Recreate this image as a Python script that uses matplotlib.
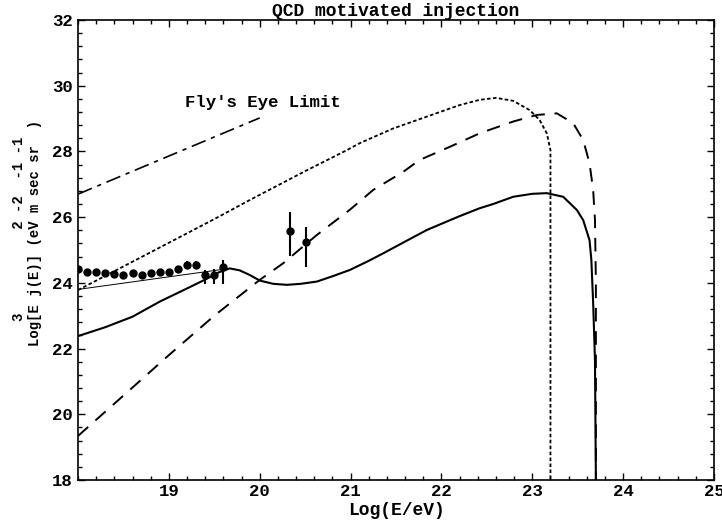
import matplotlib
matplotlib.use("Agg")
import matplotlib.pyplot as plt
from matplotlib.ticker import MultipleLocator, FixedLocator

# solid curve
solid_x = [18.0, 18.3, 18.6, 18.9, 19.2, 19.4, 19.55, 19.67, 19.78, 19.89, 20.0,
           20.15, 20.3, 20.45, 20.63, 20.8, 20.99, 21.2, 21.36, 21.65, 21.84, 22.2,
           22.42, 22.57, 22.79, 23.0, 23.16, 23.34, 23.49, 23.56, 23.63, 23.65,
           23.67, 23.69, 23.70]
solid_y = [22.38, 22.65, 22.97, 23.43, 23.83, 24.10, 24.32, 24.44, 24.38, 24.24, 24.07,
           23.97, 23.94, 23.97, 24.04, 24.20, 24.39, 24.67, 24.90, 25.33, 25.61, 26.03,
           26.27, 26.40, 26.62, 26.71, 26.73, 26.62, 26.22, 25.91, 25.30, 24.70,
           23.39, 21.65, 18.0]

# dotted curve
dot_x = [18.0, 18.5, 19.0, 19.5, 19.89, 20.5, 20.96, 21.10, 21.47, 21.84, 22.2,
         22.42, 22.6, 22.79, 22.97, 23.08, 23.16, 23.2, 23.2]
dot_y = [23.78, 24.50, 25.22, 25.94, 26.52, 27.40, 28.04, 28.25, 28.70, 29.06, 29.41,
         29.57, 29.63, 29.54, 29.26, 28.96, 28.55, 28.04, 18.0]

# dashed curve
dash_x = [18.0, 18.61, 19.0, 19.5, 20.0, 20.26, 20.63, 20.99, 21.25, 21.58, 21.76,
          22.1, 22.42, 22.79, 23.05, 23.27, 23.45, 23.56, 23.63, 23.67, 23.69,
          23.70, 23.70]
dash_y = [19.34, 20.84, 21.80, 23.00, 24.09, 24.60, 25.46, 26.22, 26.83, 27.38, 27.74,
          28.15, 28.55, 28.91, 29.11, 29.16, 28.86, 28.35, 27.64, 26.83, 25.91,
          24.0, 18.0]

# Fly's Eye limit and thin fit line
fly_x = [18.0, 20.0]
fly_y = [26.70, 29.02]
fit_x = [18.0, 19.67]
fit_y = [23.80, 24.44]

# measured points
data_x = [18.0, 18.1, 18.2, 18.3, 18.4, 18.5, 18.6, 18.7, 18.8, 18.9, 19.0,
          19.1, 19.2, 19.3, 19.4, 19.5, 19.6, 20.33, 20.51]
data_y = [24.41, 24.34, 24.34, 24.29, 24.27, 24.23, 24.29, 24.23, 24.29, 24.33, 24.32,
          24.41, 24.54, 24.54, 24.23, 24.25, 24.47, 25.59, 25.25]
err_up = [0, 0, 0, 0, 0, 0, 0, 0, 0, 0, 0.04,
          0.10, 0.12, 0.12, 0.15, 0.17, 0.24, 0.56, 0.44]
err_lo = [0, 0, 0, 0, 0, 0, 0, 0, 0, 0, 0.04,
          0.10, 0.12, 0.12, 0.25, 0.28, 0.49, 0.77, 0.78]

mono = "Liberation Mono"

fig = plt.figure(figsize=(7.22, 5.21), dpi=100)
ax = fig.add_axes([78 / 722, 41 / 521, 636 / 722, 460 / 521])

ax.plot(solid_x, solid_y, color="black", lw=1.5)
ax.plot(dot_x, dot_y, color="black", lw=1.3, linestyle=(0, (2, 1.3)))
ax.plot(dash_x, dash_y, color="black", lw=1.4, linestyle=(0, (7, 5)))
ax.plot(fly_x, fly_y, color="black", lw=1.2, linestyle=(0, (9, 3.5, 2.5, 3.5)))
ax.plot(fit_x, fit_y, color="black", lw=0.7)
ax.errorbar(data_x, data_y, yerr=[err_lo, err_up], fmt="o", color="black",
            markersize=5, elinewidth=1.5, capsize=0)

ax.text(19.18, 29.5, "Fly's Eye Limit", fontfamily=mono, fontweight="bold",
        fontsize=12.5, va="center", ha="left")

ax.set_xlim(18, 25)
ax.set_ylim(18, 32)
ax.xaxis.set_major_locator(FixedLocator([19, 20, 21, 22, 23, 24, 25]))
ax.xaxis.set_minor_locator(MultipleLocator(0.2))
ax.yaxis.set_major_locator(MultipleLocator(2))
ax.yaxis.set_minor_locator(MultipleLocator(0.4))
ax.tick_params(which="both", direction="in", top=True, right=True, width=1)
ax.tick_params(which="major", length=5)
ax.tick_params(which="minor", length=3)
ax.tick_params(axis="x", pad=3)
ax.tick_params(axis="y", pad=4)
for lab in ax.get_xticklabels() + ax.get_yticklabels():
    lab.set_fontfamily(mono)
    lab.set_fontweight("bold")
    lab.set_fontsize(12.5)
for sp in ax.spines.values():
    sp.set_linewidth(1.2)

ax.set_title("QCD motivated injection", fontfamily=mono, fontweight="bold",
             fontsize=13, pad=3)
ax.set_xlabel("Log(E/eV)", fontfamily=mono, fontweight="bold", fontsize=13,
              labelpad=2)

# two-line y label (exponents on the line above)
line1 = "   3          2 -2  -1 -1"
line2 = "Log[E j(E)] (eV m sec sr  )"
fig.text(35 / 722, (521 - 346) / 521, line2, rotation=90, ha="center", va="bottom",
         fontfamily=mono, fontweight="bold", fontsize=10)
fig.text(19 / 722, (521 - 346) / 521, line1 + "  ", rotation=90, ha="center",
         va="bottom", fontfamily=mono, fontweight="bold", fontsize=10)

fig.savefig("out.png", dpi=100)
